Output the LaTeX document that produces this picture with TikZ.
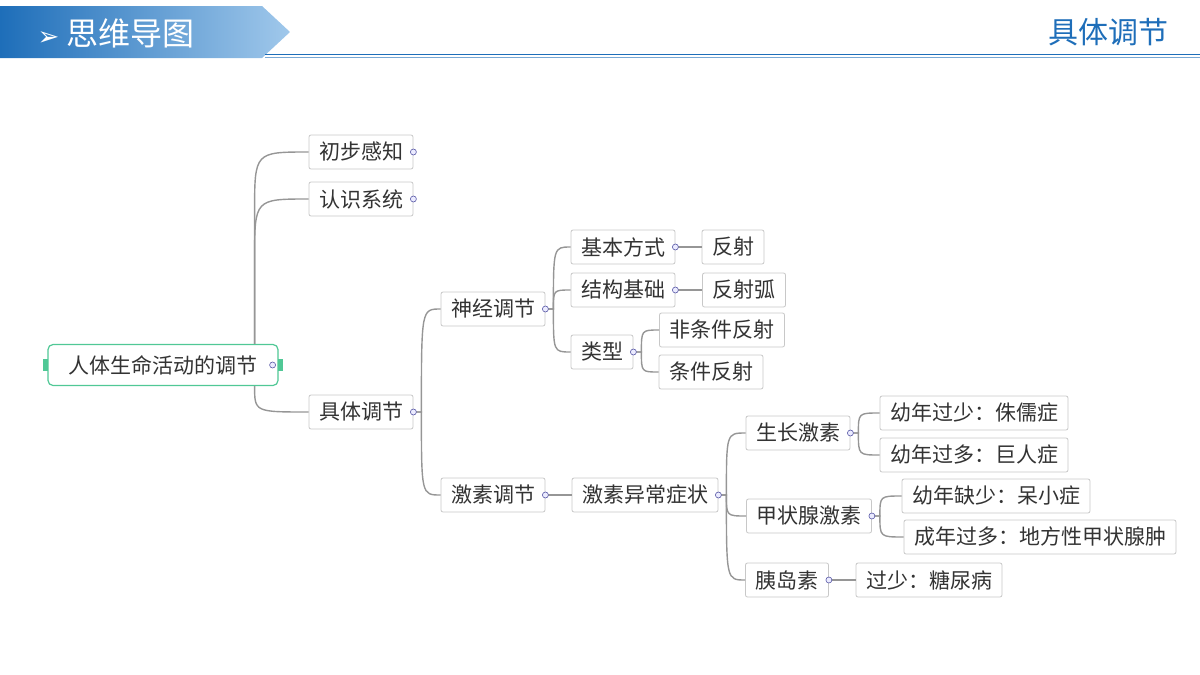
\documentclass[tikz,border=0pt]{standalone}
\usepackage{fontspec}
\setmainfont{Noto Sans CJK SC}
\newfontfamily\symfont{DejaVu Sans}
\usetikzlibrary{calc}
\definecolor{boxline}{RGB}{200,200,200}
\definecolor{linkgray}{RGB}{150,150,150}
\definecolor{rootgreen}{RGB}{80,200,150}
\definecolor{headblue}{RGB}{30,110,185}
\definecolor{headlight}{RGB}{160,200,235}
\tikzset{
  topic/.style={draw=boxline,line width=0.8pt,fill=white,rounded corners=2pt,
    minimum height=34pt,inner xsep=10pt,font=\fontsize{21}{25}\selectfont,text=black!80},
  link/.style={draw=linkgray,line width=1.4pt},
  knob/.style={circle,draw=blue!30!gray,fill=blue!8,line width=0.6pt,inner sep=0pt,minimum size=6pt}
}
\begin{document}
\begin{tikzpicture}[x=1pt,y=-1pt]
  \useasboundingbox (0,0) rectangle (1200,675);

  % header
  \shade[left color=headblue,right color=headlight]
    (0,6) -- (262,6) -- (290,32) -- (262,58) -- (0,58) -- cycle;
  \draw[headblue,line width=1pt] (265,54) -- (1200,54);
  \draw[headblue!60,line width=0.6pt] (265,57) -- (1200,57);
  \node[text=white,font=\fontsize{32}{36}\selectfont,anchor=west] (head) at (34,33)
    {{\symfont\fontsize{26}{30}\selectfont ➢}\ 思维导图};
  \node[text=headblue,font=\fontsize{30}{34}\selectfont] (part) at (1108,32) {具体调节};

  % topics
  \node[topic,draw=rootgreen,line width=1.2pt,rounded corners=5pt,minimum width=230pt,minimum height=41pt]
    (root) at (163,365) {人体生命活动的调节};
  \node[topic] (perceive) at (361,152) {初步感知};
  \node[topic] (system)   at (361,199) {认识系统};
  \node[topic] (concrete) at (361,412) {具体调节};
  \node[topic] (nerve)    at (493,309) {神经调节};
  \node[topic] (hormone)  at (493,495) {激素调节};
  \node[topic] (mode)     at (623,247) {基本方式};
  \node[topic] (basis)    at (623,290) {结构基础};
  \node[topic] (kind)     at (602,352) {类型};
  \node[topic] (reflex)   at (733,247) {反射};
  \node[topic] (arc)      at (744,290) {反射弧};
  \node[topic] (uncond)   at (722,330) {非条件反射};
  \node[topic] (cond)     at (711,372) {条件反射};
  \node[topic] (abnormal) at (645,495) {激素异常症状};
  \node[topic] (growth)   at (798,433) {生长激素};
  \node[topic] (thyroid)  at (809,516) {甲状腺激素};
  \node[topic] (insulin)  at (787,580) {胰岛素};
  \node[topic] (dwarf)    at (974,413) {幼年过少：侏儒症};
  \node[topic] (giant)    at (974,455) {幼年过多：巨人症};
  \node[topic] (cretin)   at (996,496) {幼年缺少：呆小症};
  \node[topic] (goiter)   at (1040,537) {成年过多：地方性甲状腺肿};
  \node[topic] (diabetes) at (929,580) {过少：糖尿病};

  % root branches
  \coordinate (rtop) at ($(root.north east)+(-24,0)$);
  \coordinate (rbot) at ($(root.south east)+(-24,0)$);
  \foreach \c in {perceive,system}
    \draw[link] (rtop) -- ($(rtop |- \c.west)+(0,60)$) .. controls (rtop |- \c.west) .. ($(\c.west)+(0,0)$);
  \draw[link] (rbot) .. controls (rbot |- concrete.west) .. (concrete.west);

  % child branches
  \foreach \p/\c in {concrete/nerve,concrete/hormone,nerve/mode,nerve/basis,nerve/kind,
      mode/reflex,basis/arc,kind/uncond,kind/cond,hormone/abnormal,
      abnormal/growth,abnormal/thyroid,abnormal/insulin,growth/dwarf,growth/giant,
      thyroid/cretin,thyroid/goiter,insulin/diabetes}
    \draw[link] (\p.east) -- ++(8,0) coordinate (m) .. controls (m |- \c.west) .. (\c.west);

  % knobs
  \foreach \p in {perceive,system,concrete,nerve,hormone,mode,basis,kind,abnormal,growth,thyroid,insulin}
    \node[knob] at (\p.east) {};
  \node[knob] at ($(root.east)+(-6,0)$) {};
  \fill[rootgreen] ($(root.east)+(-1,-6)$) rectangle ($(root.east)+(4,6)$);
  \fill[rootgreen] ($(root.west)+(1,-6)$) rectangle ($(root.west)+(-4,6)$);
\end{tikzpicture}
\end{document}
